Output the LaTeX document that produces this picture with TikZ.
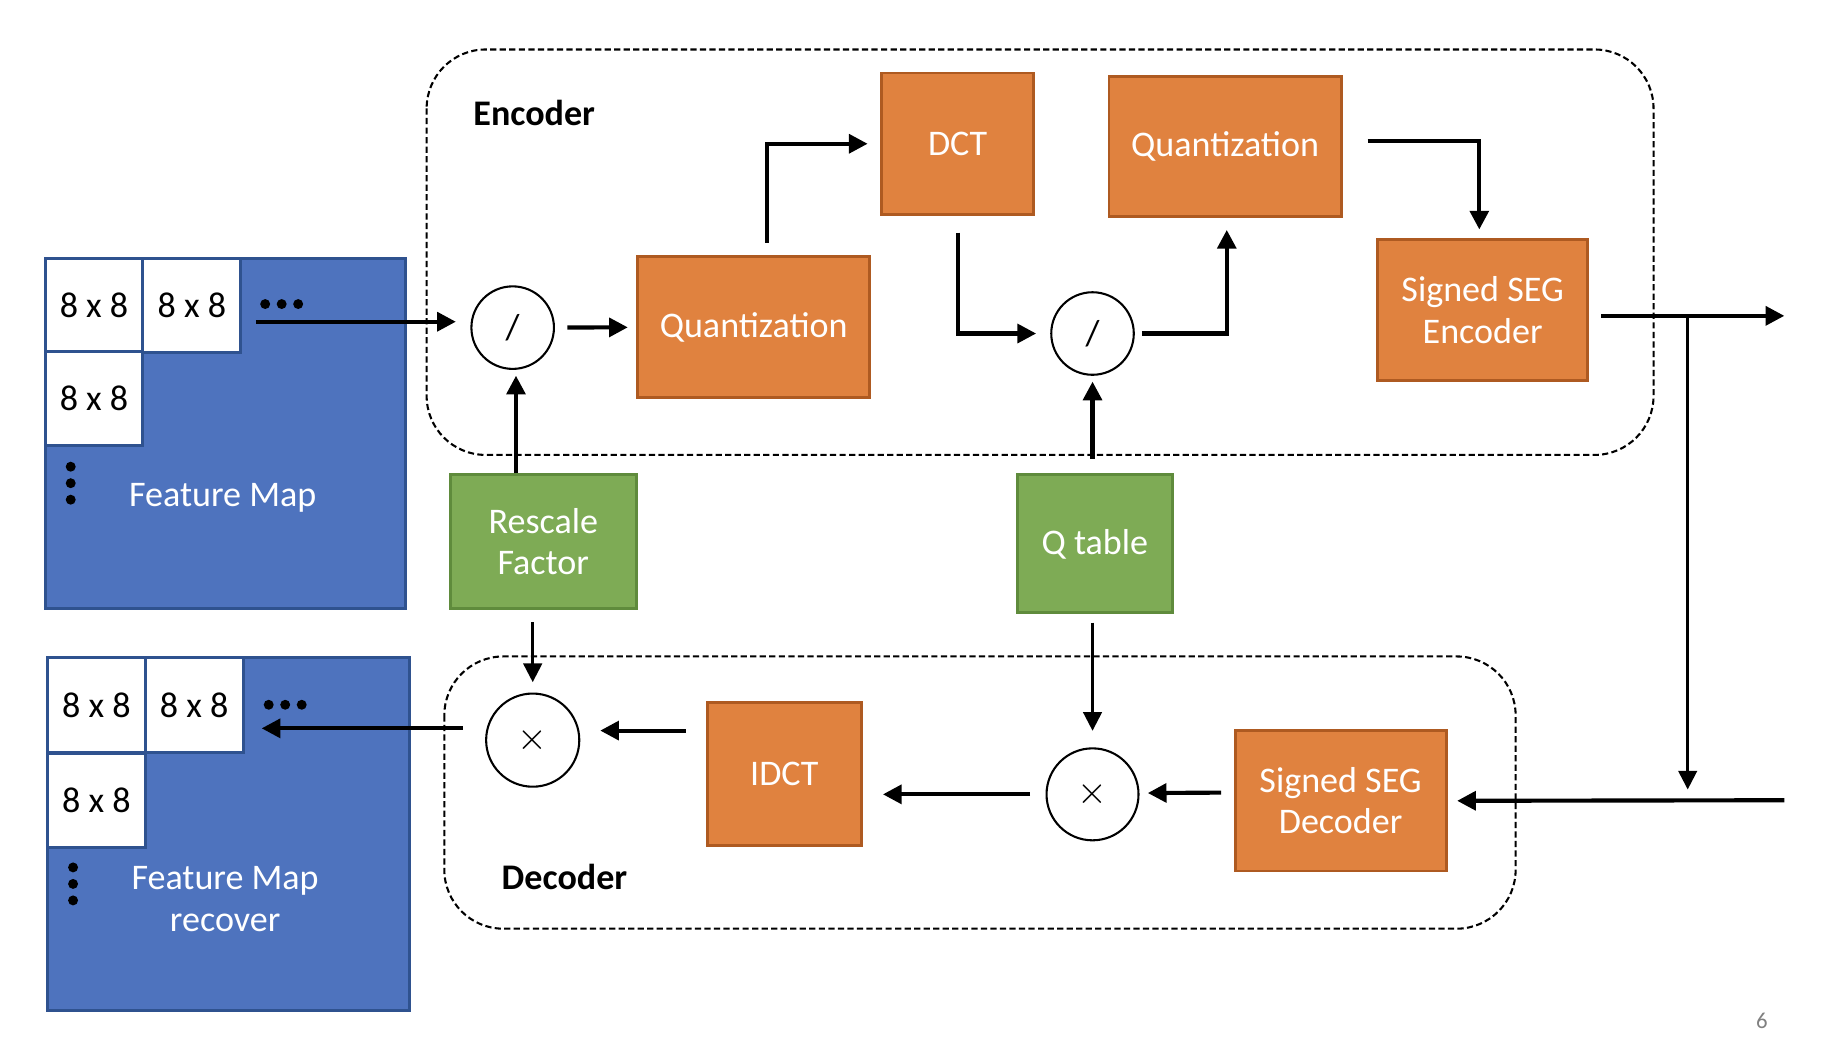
\documentclass[tikz,border=0pt]{standalone}
\usepackage{fontspec}
\setmainfont{Carlito}
\usetikzlibrary{arrows.meta}

\definecolor{blockorange}{HTML}{E0823F}
\definecolor{blockorangeline}{HTML}{AE5A21}
\definecolor{blockgreen}{HTML}{7EAB55}
\definecolor{blockgreenline}{HTML}{5F8B3C}
\definecolor{mapblue}{HTML}{4E73BE}
\definecolor{mapblueline}{HTML}{2F528F}

\tikzset{
  orangeblock/.style={draw=blockorangeline, fill=blockorange, text=white, line width=0.7pt, inner sep=0pt, align=center},
  greenblock/.style={draw=blockgreenline, fill=blockgreen, text=white, line width=0.7pt, inner sep=0pt, align=center},
  mapbox/.style={draw=mapblueline, fill=mapblue, line width=0.7pt, inner sep=0pt, anchor=north west},
  mapcell/.style={draw=mapblueline, fill=white, line width=0.7pt, inner sep=0pt, minimum width=0.83cm, minimum height=0.8cm, anchor=north west},
  opnode/.style={draw, circle, line width=0.5pt, inner sep=0pt},
  groupbox/.style={draw, line width=0.5pt, dash pattern=on 1.5pt off 0.8pt, rounded corners=0.5cm},
  flow/.style={line width=1pt, ->},
  thinflow/.style={line width=0.6pt, ->},
}

\begin{document}
\begin{tikzpicture}[x=0.01cm, y=-0.01cm, >={Triangle[length=4.5pt,width=4.5pt]},
    every node/.style={font=\fontsize{8.7}{10}\selectfont}]
        \useasboundingbox (0,0) rectangle (1568,901);

        % encoder / decoder groups
        \draw[groupbox] (362,42) rectangle (1403,386);
        \draw[groupbox] (377,557) rectangle (1286,788);
        \node[anchor=west, inner sep=0pt, font=\fontsize{8.7}{10}\bfseries] (enclabel) at (401,96) {Encoder};
        \node[anchor=west, inner sep=0pt, font=\fontsize{8.7}{10}\bfseries] (declabel) at (425,744) {Decoder};

        % input feature map
        \node[mapbox, minimum width=3.06cm, minimum height=2.97cm] (fmap) at (37,218) {};
        \node[mapcell] (cella) at (37,218) {8 x 8};
        \node[mapcell] (cellb) at (120,218) {8 x 8};
        \node[mapcell] (cellc) at (37,297) {8 x 8};
        \node[text=white] (fmaplabel) at (189,422) {Feature Map};
        \fill (225,258) circle (1.2pt) (239,258) circle (1.2pt) (253,258) circle (1.2pt);
        \fill (60,396) circle (1.2pt) (60,410) circle (1.2pt) (60,424) circle (1.2pt);

        % recovered feature map
        \node[mapbox, minimum width=3.07cm, minimum height=2.99cm] (fmaprec) at (39,557) {};
        \node[mapcell] (recella) at (39,557) {8 x 8};
        \node[mapcell] (recellb) at (122,557) {8 x 8};
        \node[mapcell] (recellc) at (39,638) {8 x 8};
        \node[text=white, align=center] (fmapreclabel) at (191,763) {Feature Map\\recover};
        \fill (228,598) circle (1.2pt) (242,598) circle (1.2pt) (256,598) circle (1.2pt);
        \fill (62,736) circle (1.2pt) (62,750) circle (1.2pt) (62,764) circle (1.2pt);

        % encoder blocks
        \node[opnode, minimum size=0.70cm] (div1) at (435,278) {/};
        \node[orangeblock, minimum width=1.97cm, minimum height=1.19cm] (quant1) at (639.5,277.5) {Quantization};
        \node[orangeblock, minimum width=1.29cm, minimum height=1.20cm] (dct) at (812.5,122) {DCT};
        \node[opnode, minimum size=0.70cm] (div2) at (927,283) {/};
        \node[orangeblock, minimum width=1.97cm, minimum height=1.19cm] (quant2) at (1039.5,124.5) {Quantization};
        \node[orangeblock, minimum width=1.78cm, minimum height=1.20cm] (segenc) at (1258,263) {Signed SEG\\Encoder};

        % side inputs
        \node[greenblock, minimum width=1.58cm, minimum height=1.13cm] (rescale) at (461,459.5) {Rescale\\Factor};
        \node[greenblock, minimum width=1.32cm, minimum height=1.17cm] (qtable) at (929,461.5) {Q table};

        % decoder blocks
        \node[orangeblock, minimum width=1.79cm, minimum height=1.19cm] (segdec) at (1137.5,679.5) {Signed SEG\\Decoder};
        \node[opnode, minimum size=0.78cm] (mul2) at (927,674) {$\times$};
        \node[orangeblock, minimum width=1.31cm, minimum height=1.21cm] (idct) at (665.5,656.5) {IDCT};
        \node[opnode, minimum size=0.79cm] (mul1) at (452,628) {$\times$};

        \coordinate (fmapout) at (217,273);
        \coordinate (encout) at (1514,268);
        \coordinate (split) at (1432,268);
        \coordinate (decin) at (1514,679);
        \coordinate (recin) at (222,618);

        % encoder path
        \draw[flow, shorten >=3.5pt] (fmapout) -- (fmapout -| div1.west);
        \draw[flow, shorten <=3pt, shorten >=2pt] (div1) -- (quant1);
        \draw[flow, shorten <=3pt, shorten >=3pt] ([xshift=3.3pt]quant1.north) |- (dct.west);
        \draw[flow, shorten <=4pt, shorten >=3.4pt] (dct.south) |- (div2.west);
        \draw[flow, shorten <=1.7pt, shorten >=2.8pt] (div2.east) -| ([xshift=0.4pt]quant2.south);
        \draw[flow, shorten <=6pt, shorten >=2pt] ([yshift=1.3pt]quant2.east) -| ([xshift=-0.8pt]segenc.north);
        \draw[flow, shorten <=3pt] (segenc.east |- encout) -- (encout);
        \draw[thinflow, shorten >=2.6pt] (split) -- (split |- decin);
        \draw[flow, shorten >=2.3pt] (decin) -- (segdec.east);

        % side inputs
        \draw[flow, shorten >=1.4pt] ([xshift=0.8pt]div1.south |- rescale.north) -- ([xshift=0.8pt]div1.south);
        \draw[flow, shorten <=3.6pt, shorten >=1.4pt] (div2.south |- qtable.north) -- (div2.south);
        \draw[thinflow, shorten <=3pt, shorten >=2.5pt] (mul1.north |- rescale.south) -- (mul1.north);
        \draw[thinflow, shorten <=2pt, shorten >=4pt] (mul2.north |- qtable.south) -- (mul2.north);

        % decoder path
        \draw[flow, shorten <=3pt, shorten >=2pt] ([yshift=2pt]segdec.west) -- ([yshift=0.3pt]mul2.east);
        \draw[flow, shorten <=3.7pt, shorten >=4.8pt] (mul2.west) -- (mul2.west -| idct.east);
        \draw[flow, shorten <=4.8pt, shorten >=4.8pt] ([yshift=2.3pt]idct.west |- mul1.east) -- ([yshift=2.3pt]mul1.east);
        \draw[flow, shorten <=5.4pt] (mul1.west |- recin) -- (recin);

        \node[text=gray, font=\fontsize{5.5}{6}\selectfont] (pagenum) at (1495,866) {6};
\end{tikzpicture}
\end{document}
